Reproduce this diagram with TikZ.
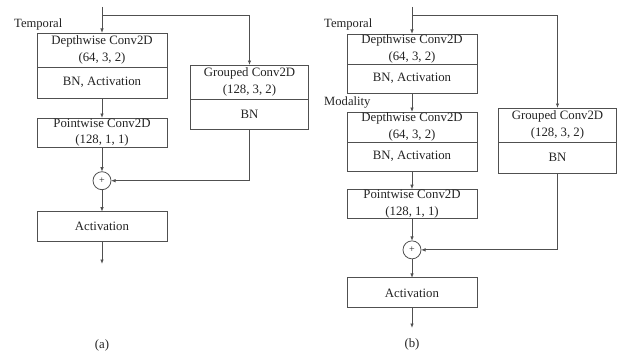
\documentclass[tikz,border=0pt]{standalone}
\usepackage{fontspec}
\setmainfont{Liberation Serif}
\usepackage{tikz}
\usetikzlibrary{arrows.meta,positioning}
\definecolor{lngray}{RGB}{80,80,80}
\definecolor{txgray}{RGB}{35,35,35}
\tikzset{
  layer/.style={rectangle, draw=lngray, line width=0.8pt, align=center, outer sep=0pt, inner sep=1pt, text=txgray, minimum width=130pt, font=\fontsize{12.8}{16.5}\selectfont},
  glayer/.style={layer, minimum width=118pt},
  sumnode/.style={circle, draw=lngray, line width=0.8pt, outer sep=0pt, inner sep=0pt, minimum size=18pt, text=txgray, font=\fontsize{10}{10}\selectfont},
  tag/.style={anchor=west, inner sep=0pt, text=txgray, font=\fontsize{12.6}{14}\selectfont},
  caption/.style={inner sep=0pt, text=txgray, font=\fontsize{12.8}{14}\selectfont},
  arrow/.style={-{Latex[length=4.5pt,width=3.5pt]}, line width=0.8pt, draw=lngray},
  line/.style={line width=0.8pt, draw=lngray}
}
\begin{document}
\begin{tikzpicture}[x=1pt, y=-1pt, node distance=20pt]
\useasboundingbox (0,0) rectangle (617,353);
% (a)
\node[layer, minimum height=34pt] (dwa) at (102,50) {Depthwise Conv2D\\(64, 3, 2)};
\node[layer, minimum height=31pt, below=0pt of dwa] (dwabn) {BN, Activation};
\node[layer, minimum height=29pt, below=20pt of dwabn] (pwa) {Pointwise Conv2D\\(128, 1, 1)};
\node[sumnode, below=24pt of pwa] (suma) {+};
\node[layer, minimum height=30pt, below=22pt of suma] (acta) {Activation};
\node[glayer, minimum height=34pt] (ga) at (249.5,82) {Grouped Conv2D\\(128, 3, 2)};
\node[glayer, minimum height=30pt, below=0pt of ga] (gabn) {BN};
\node[tag] (tempa) at (14,24) {Temporal};
\node[caption] (capa) at (102,345) {(a)};
\coordinate (ina) at (102,7);
\coordinate (splita) at (102,15);
\coordinate (outa) at (102,264);
\draw[arrow] (ina) -- (dwa);\draw[arrow] (splita) -| (ga.north);
\draw[arrow] (dwabn) -- (pwa);\draw[arrow] (pwa) -- (suma);\draw[arrow] (gabn.south) |- (suma);
\draw[arrow] (suma) -- (acta);\draw[arrow] (acta) -- (outa);
% (b)
\node[layer, minimum height=30pt] (dwb) at (412,49) {Depthwise Conv2D\\(64, 3, 2)};
\node[layer, minimum height=29pt, below=0pt of dwb] (dwbbn) {BN, Activation};
\node[layer, minimum height=30pt, below=19pt of dwbbn] (dwmb) {Depthwise Conv2D\\(64, 3, 2)};
\node[layer, minimum height=29pt, below=0pt of dwmb] (dwmbbn) {BN, Activation};
\node[layer, minimum height=29pt, below=18pt of dwmbbn] (pwb) {Pointwise Conv2D\\(128, 1, 1)};
\node[sumnode, below=22pt of pwb] (sumb) {+};
\node[layer, minimum height=30pt, below=19pt of sumb] (actb) {Activation};
\node[glayer, minimum height=34pt] (gb) at (557.5,125) {Grouped Conv2D\\(128, 3, 2)};
\node[glayer, minimum height=31pt, below=0pt of gb] (gbbn) {BN};
\node[tag] (tempb) at (324,24) {Temporal};
\node[tag] (modb) at (324,102) {Modality};
\node[caption] (capb) at (412,344) {(b)};
\coordinate (inb) at (412,7);
\coordinate (splitb) at (412,15);
\coordinate (outb) at (412,328);
\draw[arrow] (inb) -- (dwb);\draw[arrow] (splitb) -| (gb.north);
\draw[arrow] (dwbbn) -- (dwmb);\draw[arrow] (dwmbbn) -- (pwb);\draw[arrow] (pwb) -- (sumb);
\draw[arrow] (gbbn.south) |- (sumb);\draw[arrow] (sumb) -- (actb);\draw[arrow] (actb) -- (outb);
\end{tikzpicture}
\end{document}
